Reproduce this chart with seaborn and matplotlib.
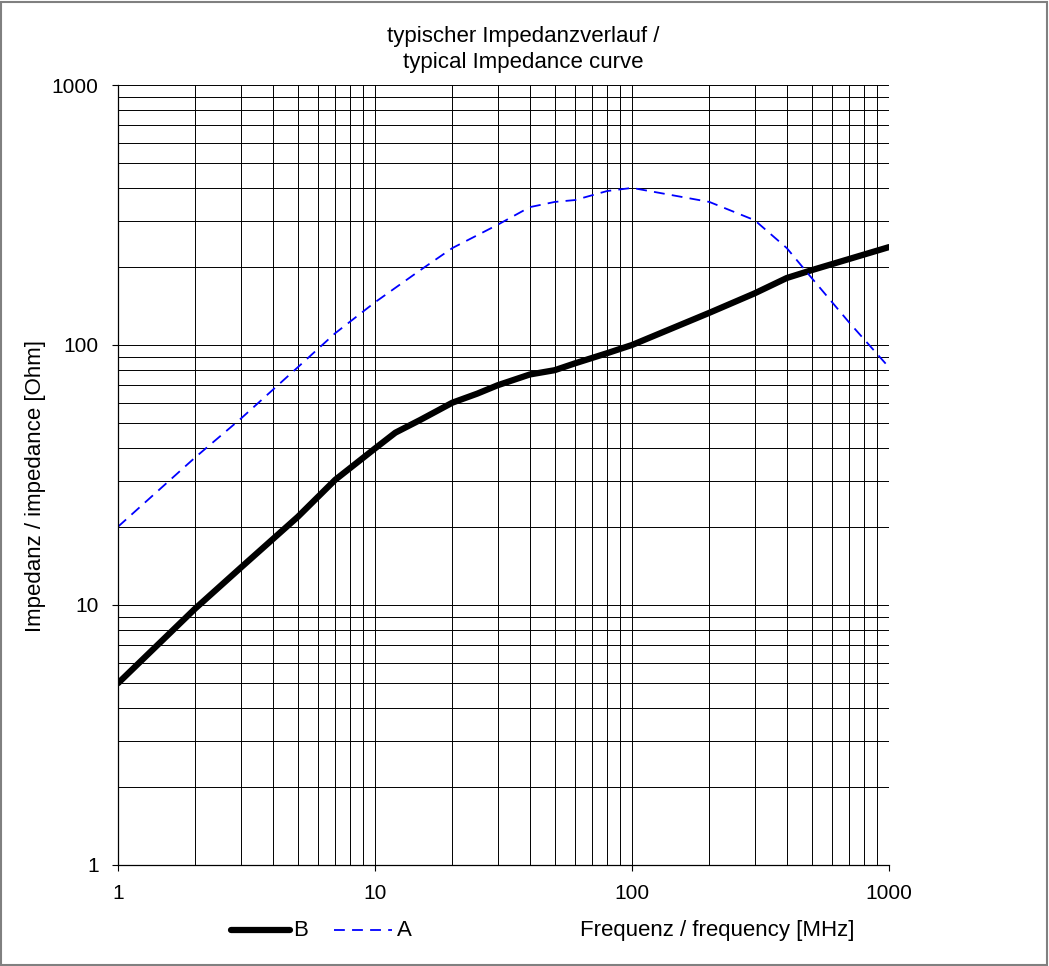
import matplotlib
matplotlib.use("Agg")
import matplotlib.pyplot as plt
import numpy as np
import pandas as pd
import seaborn as sns
from matplotlib.lines import Line2D
from matplotlib.patches import Rectangle

# impedance curves
freq_b = [1, 2, 3, 5, 7, 10, 12, 15, 20, 25, 30, 40, 50, 60, 80, 100, 200, 300, 400, 500, 1000]
imp_b = [5.0, 9.7, 13.9, 21.8, 30.3, 40, 46, 51.5, 60, 65, 70, 77, 80, 85, 93, 100, 133, 158, 181, 194, 238]

freq_a = [1, 2, 3, 5, 7, 10, 15, 20, 30, 40, 50, 60, 80, 100, 200, 300, 400, 500, 700, 1000]
imp_a = [20, 37, 52, 82, 111, 146, 194, 236, 290, 339, 355, 361, 391, 402, 355, 302, 236, 181, 122, 82]

x_ticks = [1, 10, 100, 1000]
y_ticks = [1, 10, 100, 1000]

sns.set_style("white")
plt.rcParams['font.family'] = ['Liberation Sans', 'DejaVu Sans']
plt.rcParams['text.color'] = 'black'
plt.rcParams['xtick.color'] = 'black'
plt.rcParams['ytick.color'] = 'black'

df_b = pd.DataFrame({"f": freq_b, "z": imp_b})
df_a = pd.DataFrame({"f": freq_a, "z": imp_a})

fig = plt.figure(figsize=(10.49, 9.66), dpi=100)
ax = fig.add_axes([0.1125, 0.1046, 0.735, 0.8074])

sns.lineplot(data=df_b, x="f", y="z", ax=ax, color="black", linewidth=4.5,
             solid_capstyle="round", solid_joinstyle="round")
sns.lineplot(data=df_a, x="f", y="z", ax=ax, color="#0000ff", linewidth=1.3,
             dashes=False, linestyle=(0, (6, 4)))

ax.set_xscale("log")
ax.set_yscale("log")
ax.set_xlim(1, 1000)
ax.set_ylim(1, 1000)
ax.set_xticks(x_ticks)
ax.set_xticklabels([str(t) for t in x_ticks])
ax.set_yticks(y_ticks)
ax.set_yticklabels([str(t) for t in y_ticks])
ax.minorticks_on()
ax.tick_params(which="minor", length=0)
ax.tick_params(which="major", length=4.5, width=0.8, color="black", labelcolor="black",
               labelsize=15, direction="out", bottom=True, left=True, pad=9.5)
ax.grid(True, which="both", color="black", linewidth=0.7)
ax.set_axisbelow(True)
for s in ["top", "right"]:
    ax.spines[s].set_visible(False)
for s in ["left", "bottom"]:
    ax.spines[s].set_color("black")
    ax.spines[s].set_linewidth(0.9)
ax.set_xlabel("")
ax.set_ylabel("")

# titles and axis texts
fig.text(0.4986, 0.962, "typischer Impedanzverlauf /", ha="center", va="center", fontsize=16)
fig.text(0.4986, 0.935, "typical Impedance curve", ha="center", va="center", fontsize=16)
fig.text(0.034, 0.497, "Impedanz / impedance [Ohm]", rotation=90, ha="center", va="center", fontsize=16)
fig.text(0.6835, 0.037, "Frequenz / frequency [MHz]", ha="center", va="center", fontsize=16)

# legend drawn manually in the bottom margin
fig.add_artist(Line2D([0.220, 0.276], [0.037, 0.037], color="black", linewidth=4.5,
                      solid_capstyle="round", transform=fig.transFigure))
fig.text(0.279, 0.037, "B", ha="left", va="center", fontsize=16)
fig.add_artist(Line2D([0.318, 0.374], [0.037, 0.037], color="#0000ff", linewidth=1.3,
                      linestyle=(0, (6, 4)), transform=fig.transFigure))
fig.text(0.378, 0.037, "A", ha="left", va="center", fontsize=16)

# frame around the whole figure
fig.add_artist(Rectangle((0.001, 0.001), 0.997, 0.997, transform=fig.transFigure,
                         fill=False, edgecolor="#808080", linewidth=1.5))

fig.savefig("out.png", dpi=100)
